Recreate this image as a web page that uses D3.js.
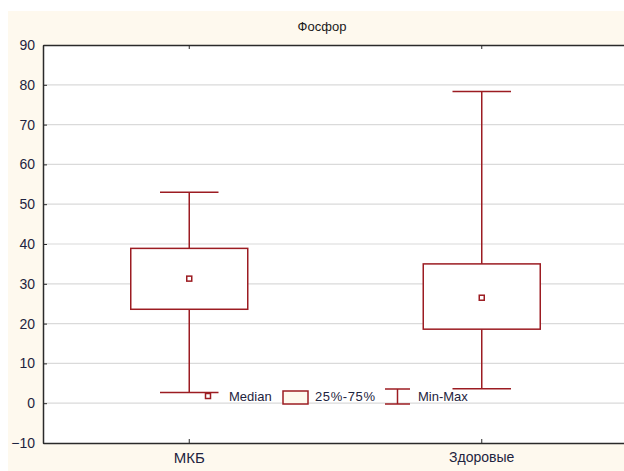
<!DOCTYPE html>
<html>
<head>
<meta charset="utf-8">
<script src="https://cdn.jsdelivr.net/npm/d3@7"></script>
<style>
  html, body { margin: 0; padding: 0; background: #ffffff; }
  svg { display: block; }
  text { font-family: "Liberation Sans", Arial, sans-serif; }
</style>
</head>
<body>
<svg id="chart" width="624" height="471"></svg>
<script>
// Phosphorus: box-and-whisker summary per group
const title = "Фосфор";
const categories = ["МКБ", "Здоровые"];
const minValues = [2.7, 3.6];
const q1Values = [23.6, 18.6];
const medianValues = [31.3, 26.5];
const q3Values = [38.9, 35.0];
const maxValues = [53.0, 78.3];
const yTickValues = [-10, 0, 10, 20, 30, 40, 50, 60, 70, 80, 90];
const gridValues = [0, 10, 20, 30, 40, 50, 60, 70, 80];
const legendLabels = ["Median", "25%-75%", "Min-Max"];

const W = 624, H = 471;
const plot = { left: 43, top: 45, right: 628, bottom: 443 };
const boxColor = "#9c1c22";
const cream = "#fef9ee";
const textColor = "#1e2440";

const svg = d3.select("#chart");

// Cream panel behind everything
svg.append("rect")
  .attr("x", 8).attr("y", 11)
  .attr("width", W - 8).attr("height", H - 11)
  .attr("fill", cream);

// White plotting area
svg.append("rect")
  .attr("x", plot.left).attr("y", plot.top)
  .attr("width", plot.right - plot.left).attr("height", plot.bottom - plot.top)
  .attr("fill", "#ffffff");

const x = d3.scaleBand().domain(categories).range([plot.left, plot.right]);
const y = d3.scaleLinear().domain([-10, 90]).range([plot.bottom, plot.top]);

// Horizontal grid
svg.append("g").selectAll("line")
  .data(gridValues).join("line")
  .attr("x1", plot.left).attr("x2", plot.right)
  .attr("y1", d => y(d)).attr("y2", d => y(d))
  .attr("stroke", "#dadada").attr("stroke-width", 1.2);

// Title
svg.append("text")
  .attr("x", 322).attr("y", 31)
  .attr("text-anchor", "middle")
  .attr("font-size", 13)
  .attr("fill", "#1a1a1a")
  .text(title);

// Y axis with inward ticks
const yAxis = svg.append("g")
  .attr("transform", `translate(${plot.left},0)`)
  .call(d3.axisLeft(y).tickValues(yTickValues).tickFormat(d3.format("d"))
    .tickSizeInner(-4).tickSizeOuter(0).tickPadding(8));
yAxis.select(".domain").attr("stroke", "#2a2a2a").attr("stroke-width", 1.5);
yAxis.selectAll(".tick line").attr("stroke", "#2a2a2a");
yAxis.selectAll(".tick text")
  .attr("font-size", 14).attr("fill", textColor)
  .attr("font-family", "'Liberation Sans', Arial, sans-serif");

// Bottom axis with inward ticks
const xAxis = svg.append("g")
  .attr("transform", `translate(0,${plot.bottom})`)
  .call(d3.axisBottom(x).tickSizeInner(-4).tickSizeOuter(0).tickPadding(9));
xAxis.select(".domain").attr("stroke", "#2a2a2a").attr("stroke-width", 1.5);
xAxis.selectAll(".tick line").attr("stroke", "#2a2a2a");
xAxis.selectAll(".tick text")
  .attr("fill", textColor)
  .attr("font-family", "'Liberation Sans', Arial, sans-serif")
  .attr("font-size", (d, i) => i === 0 ? 15 : 14);

// Top frame with inward ticks
const xTop = svg.append("g")
  .attr("transform", `translate(0,${plot.top})`)
  .call(d3.axisTop(x).tickSizeInner(-4).tickSizeOuter(0).tickFormat(""));
xTop.select(".domain").attr("stroke", "#2a2a2a").attr("stroke-width", 1.5);
xTop.selectAll(".tick line").attr("stroke", "#2a2a2a");

// Boxes
const cx = c => x(c) + x.bandwidth() / 2;
const boxW = x.bandwidth() * 0.4;
const capW = x.bandwidth() * 0.2;
const rows = categories.map((c, i) => ({
  c, min: minValues[i], q1: q1Values[i], med: medianValues[i], q3: q3Values[i], max: maxValues[i]
}));

const g = svg.append("g").attr("stroke", boxColor).attr("stroke-width", 1.5).attr("fill", "none");
// whiskers
g.selectAll(".whisker-up").data(rows).join("line")
  .attr("x1", d => cx(d.c)).attr("x2", d => cx(d.c))
  .attr("y1", d => y(d.q3)).attr("y2", d => y(d.max));
g.selectAll(".whisker-down").data(rows).join("line")
  .attr("x1", d => cx(d.c)).attr("x2", d => cx(d.c))
  .attr("y1", d => y(d.q1)).attr("y2", d => y(d.min));
// caps
g.selectAll(".cap-max").data(rows).join("line")
  .attr("x1", d => cx(d.c) - capW / 2).attr("x2", d => cx(d.c) + capW / 2)
  .attr("y1", d => y(d.max)).attr("y2", d => y(d.max));
g.selectAll(".cap-min").data(rows).join("line")
  .attr("x1", d => cx(d.c) - capW / 2).attr("x2", d => cx(d.c) + capW / 2)
  .attr("y1", d => y(d.min)).attr("y2", d => y(d.min));
// boxes
g.selectAll("rect.box").data(rows).join("rect")
  .attr("class", "box")
  .attr("x", d => cx(d.c) - boxW / 2).attr("width", boxW)
  .attr("y", d => y(d.q3)).attr("height", d => y(d.q1) - y(d.q3))
  .attr("fill", "#ffffff");
// median markers
g.selectAll("rect.med").data(rows).join("rect")
  .attr("class", "med")
  .attr("x", d => cx(d.c) - 2.5).attr("y", d => y(d.med) - 2.5)
  .attr("width", 5).attr("height", 5)
  .attr("fill", "#ffffff");

// Legend
const lg = svg.append("g");
const ly = 396;
const legendFont = 13;
lg.append("rect").attr("x", 205.5).attr("y", ly - 2.5).attr("width", 5).attr("height", 5)
  .attr("fill", "#ffffff").attr("stroke", boxColor).attr("stroke-width", 1.5);
lg.append("text").attr("x", 229).attr("y", ly + 4.5).attr("font-size", legendFont)
  .attr("fill", textColor).text(legendLabels[0]);
lg.append("rect").attr("x", 283).attr("y", ly - 5).attr("width", 25).attr("height", 13)
  .attr("fill", cream).attr("stroke", boxColor).attr("stroke-width", 1.5);
lg.append("text").attr("x", 315).attr("y", ly + 4.5).attr("font-size", legendFont)
  .attr("fill", textColor).attr("letter-spacing", 0.6).text(legendLabels[1]);
const mm = lg.append("g").attr("stroke", boxColor).attr("stroke-width", 1.5);
mm.append("line").attr("x1", 385).attr("x2", 410).attr("y1", ly - 7).attr("y2", ly - 7);
mm.append("line").attr("x1", 385).attr("x2", 410).attr("y1", ly + 8).attr("y2", ly + 8);
mm.append("line").attr("x1", 397.5).attr("x2", 397.5).attr("y1", ly - 7).attr("y2", ly + 8);
lg.append("text").attr("x", 418).attr("y", ly + 4.5).attr("font-size", legendFont)
  .attr("fill", textColor).text(legendLabels[2]);
</script>
</body>
</html>
